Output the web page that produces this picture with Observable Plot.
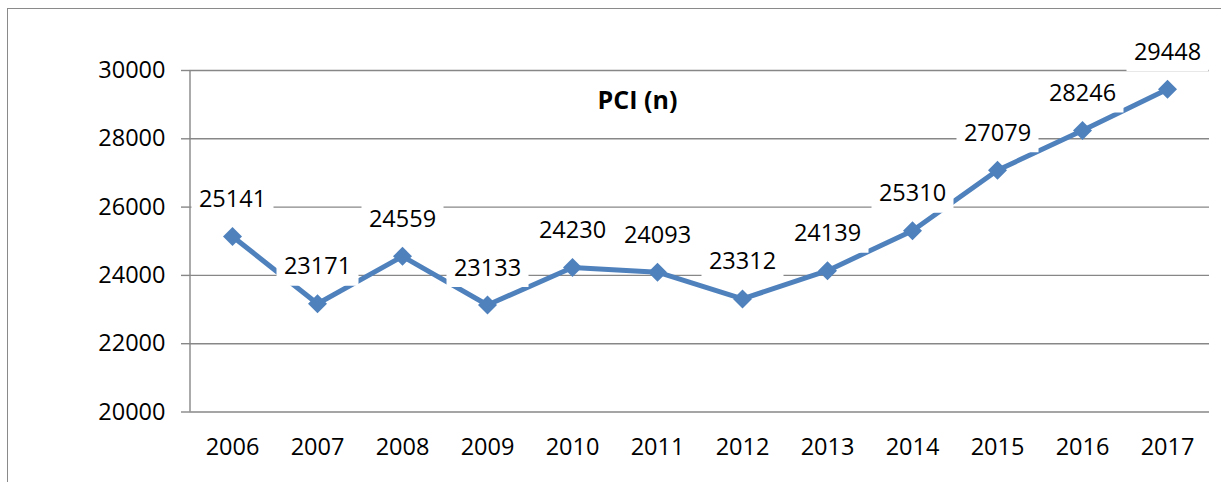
<!DOCTYPE html>
<html>
<head>
<meta charset="utf-8">
<script src="https://cdn.jsdelivr.net/npm/d3@7"></script>
<script src="https://cdn.jsdelivr.net/npm/@observablehq/plot@0.6"></script>
<style>
  html, body { margin: 0; padding: 0; background: #fff; overflow: hidden; }
  #wrap { position: relative; width: 1221px; height: 482px; }
  #border { position: absolute; left: 7px; top: 8px; width: 1400px; height: 700px;
            border: 1.5px solid #8a8a8a; pointer-events: none; }
</style>
</head>
<body>
<div id="wrap"><div id="border"></div></div>
<script>
const years = [2006, 2007, 2008, 2009, 2010, 2011, 2012, 2013, 2014, 2015, 2016, 2017];
const values = [25141, 23171, 24559, 23133, 24230, 24093, 23312, 24139, 25310, 27079, 28246, 29448];
const yTicks = [20000, 22000, 24000, 26000, 28000, 30000];
const title = "PCI (n)";

const data = years.map((year, i) => ({year, value: values[i]}));

const diamond = {
  draw(ctx) {
    const h = 9.5;
    ctx.moveTo(0, -h); ctx.lineTo(h, 0); ctx.lineTo(0, h); ctx.lineTo(-h, 0); ctx.closePath();
  }
};
const labelBox = {
  draw(ctx) {
    ctx.rect(-41, -18, 82, 36);
  }
};

const chart = Plot.plot({
  width: 1221,
  height: 482,
  marginLeft: 189,
  marginRight: 12,
  marginTop: 70,
  marginBottom: 70.5,
  style: {fontFamily: "'Open Sans', sans-serif", fontSize: "23.5px", color: "#000", background: "transparent"},
  x: {type: "point", domain: years, padding: 0.5},
  y: {domain: [20000, 30000]},
  marks: [
    Plot.ruleY(yTicks, {stroke: "#878787", strokeWidth: 1.4}),
    Plot.ruleX([years[0]], {dx: -42.5, y1: 20000, y2: 30000, stroke: "#878787", strokeWidth: 1.4}),
    Plot.axisY({ticks: yTicks, tickSize: 8, tickPadding: 16, tickFormat: d => String(d),
                stroke: "#878787", strokeWidth: 1.4, label: null}),
    Plot.axisX({tickSize: 0, tickPadding: 26, tickFormat: d => String(d), label: null}),
    Plot.line(data, {x: "year", y: "value", stroke: "#4F81BD", strokeWidth: 5, strokeLinejoin: "round"}),
    Plot.dot(data, {x: "year", y: "value", symbol: diamond, fill: "#4F81BD", stroke: "none"}),
    Plot.dot(data, {x: "year", y: "value", symbol: labelBox, fill: "white", stroke: "none", dy: -36}),
    Plot.text(data, {x: "year", y: "value", text: d => String(d.value), dy: -37, fill: "#000"}),
    Plot.text([title], {frameAnchor: "top", dx: -62, dy: 21, fontWeight: "bold", fontSize: 25, fill: "#000"})
  ]
});

document.getElementById("wrap").prepend(chart);
</script>
</body>
</html>
